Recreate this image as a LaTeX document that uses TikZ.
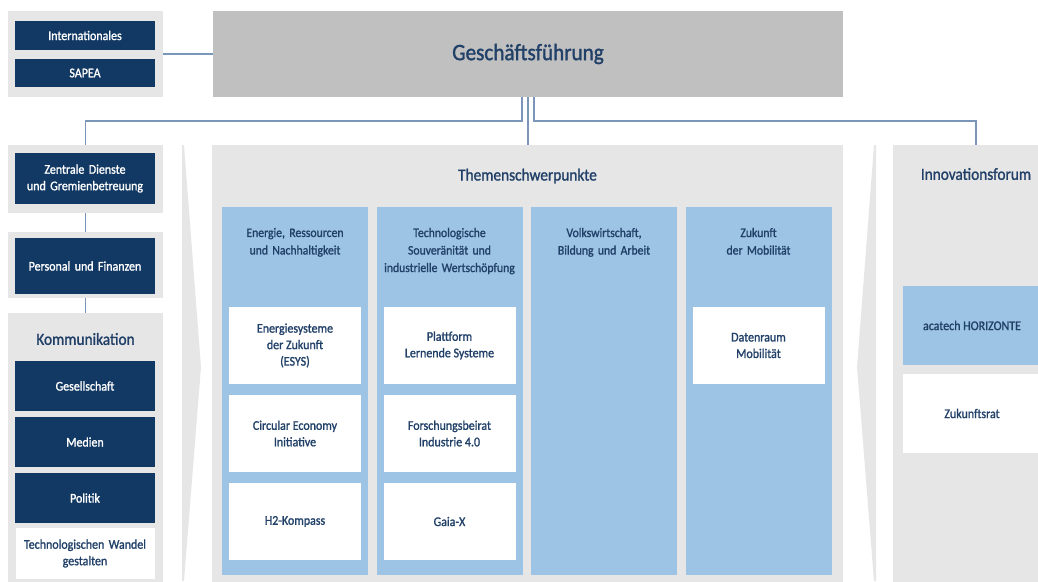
\documentclass[tikz,border=0pt]{standalone}
\usepackage{fontspec}
\setmainfont{Carlito}[FakeStretch=0.9, FakeBold=1.3]
\usetikzlibrary{positioning}

\definecolor{navy}{RGB}{18,57,99}
\definecolor{textblue}{RGB}{33,64,104}
\definecolor{panelgray}{RGB}{230,230,230}
\definecolor{headgray}{RGB}{192,192,192}
\definecolor{colblue}{RGB}{157,196,228}
\definecolor{linkblue}{RGB}{122,150,184}

\begin{document}
\begin{tikzpicture}[x=1pt,y=-1pt,
    every node/.style={outer sep=0pt},
    group_bg/.style ={rectangle, fill=panelgray, anchor=north west, inner sep=0pt},
    block_navy/.style ={rectangle, fill=navy, text=white, text width=140pt, align=center,
      inner sep=0pt, font=\fontsize{13.3}{16.5}\selectfont},
    block_white/.style ={rectangle, fill=white, text=textblue, align=center,
      inner sep=0pt, font=\fontsize{13.3}{16.5}\selectfont},
    block_col/.style ={rectangle, fill=colblue, minimum width=146pt, minimum height=368pt,
      anchor=north west, inner sep=0pt},
    col_title/.style ={text=textblue, text width=146pt, align=center, inner sep=0pt,
      font=\fontsize{13}{17.5}\selectfont},
    group_title/.style ={text=textblue, inner sep=0pt, font=\fontsize{17}{20}\selectfont},
    line/.style ={draw=linkblue, line width=1.1pt}]
    \useasboundingbox (0,0) rectangle (1038,581);
    \clip (0,0) rectangle (1038,581);

    % top row
    \node [group_bg, minimum width=155pt, minimum height=86pt] (intl_bg) at (8,11) {};
    \node [block_navy, anchor=north west, minimum height=29pt] (intl) at (15,21) {Internationales};
    \node [block_navy, below=9pt of intl, minimum height=28pt] (sapea) {SAPEA};
    \node [rectangle, fill=headgray, anchor=north west, minimum width=630pt, minimum height=86pt,
      inner sep=0pt, text=textblue, font=\fontsize{23.5}{26}\selectfont] (gf) at (213,11) {Geschäftsführung};

    % left column
    \node [group_bg, minimum width=155pt, minimum height=68pt] (zentr_bg) at (8,145) {};
    \node [block_navy, anchor=north west, minimum height=51pt] (zentr) at (15,153)
      {Zentrale Dienste\\und Gremienbetreuung};
    \node [group_bg, minimum width=155pt, minimum height=66pt] (pers_bg) at (8,232) {};
    \node [block_navy, anchor=north west, minimum height=56pt] (pers) at (15,238) {Personal und Finanzen};
    \node [group_bg, minimum width=155pt, minimum height=290pt] (komm_bg) at (8,313) {};
    \node [group_title] (komm_title) at ([yshift=-26pt]komm_bg.north) {Kommunikation};
    \node [block_navy, anchor=north west, minimum height=50pt] (gesell) at (15,361) {Gesellschaft};
    \node [block_navy, below=6pt of gesell, minimum height=50pt] (medien) {Medien};
    \node [block_navy, below=6pt of medien, minimum height=50pt] (politik) {Politik};
    \node [block_white, below=5pt of politik, text width=139pt, minimum height=51pt] (wandel)
      {Technologischen Wandel\\gestalten};

    % separators
    \fill [panelgray] (182,145) -- (184,145) -- (201,367) -- (184,581) -- (182,581) -- cycle;
    \fill [panelgray] (876,145) -- (874,145) -- (857,367) -- (874,581) -- (876,581) -- cycle;

    % themes
    \node [group_bg, minimum width=631pt, minimum height=445pt] (themen_bg) at (212,145) {};
    \node [group_title] (themen_title) at ([yshift=-31pt]themen_bg.north) {Themenschwerpunkte};
    \node [block_col] (col1) at (222,207) {};
    \node [block_col, right=8.5pt of col1] (col2) {};
    \node [block_col, right=8.5pt of col2] (col3) {};
    \node [block_col, right=8.5pt of col3] (col4) {};
    \node [col_title, below=21pt of col1.north] (col1_title) {Energie, Ressourcen\\und Nachhaltigkeit};
    \node [col_title, below=21pt of col2.north] (col2_title)
      {Technologische\\Souveränität und\\industrielle Wertschöpfung};
    \node [col_title, below=21pt of col3.north] (col3_title) {Volkswirtschaft,\\Bildung und Arbeit};
    \node [col_title, below=21pt of col4.north] (col4_title) {Zukunft\\der Mobilität};

    % projects per theme
    \node [block_white, below=100pt of col1.north, minimum width=132pt, minimum height=77pt] (esys)
      {Energiesysteme\\der Zukunft\\(ESYS)};
    \node [block_white, below=11pt of esys, minimum width=132pt, minimum height=77pt] (cei)
      {Circular Economy\\Initiative};
    \node [block_white, below=11pt of cei, minimum width=132pt, minimum height=77pt] (h2)
      {H2-Kompass};
    \node [block_white, below=100pt of col2.north, minimum width=132pt, minimum height=77pt] (pls)
      {Plattform\\Lernende Systeme};
    \node [block_white, below=11pt of pls, minimum width=132pt, minimum height=77pt] (fbi)
      {Forschungsbeirat\\Industrie 4.0};
    \node [block_white, below=11pt of fbi, minimum width=132pt, minimum height=77pt] (gaiax)
      {Gaia-X};
    \node [block_white, below=100pt of col4.north, minimum width=132pt, minimum height=77pt] (drm)
      {Datenraum\\Mobilität};

    % innovation forum
    \node [group_bg, minimum width=166pt, minimum height=445pt] (innov_bg) at (893,145) {};
    \node [group_title] (innov_title) at ([yshift=-29pt]innov_bg.north) {Innovationsforum};
    \node [block_white, fill=colblue, anchor=north west, minimum width=138pt, minimum height=79pt] (horiz)
      at (903,286) {acatech HORIZONTE};
    \node [block_white, below=9pt of horiz, minimum width=138pt, minimum height=79pt] (zrat) {Zukunftsrat};

    % connecting nodes
    \path [line] (intl_bg) -- (gf);
    \path [line] ([xshift=-6pt]gf.south) -- ++(0,-24pt) -| (zentr_bg.north);
    \path [line] (gf.south) -- (gf.south |- themen_bg.north);
    \path [line] ([xshift=6pt]gf.south) -- ++(0,-24pt) -| (innov_bg.north);
    \path [line] (zentr_bg.south) -- (pers_bg.north);
    \path [line] (pers_bg.south) -- (komm_bg.north);
\end{tikzpicture}
\end{document}
